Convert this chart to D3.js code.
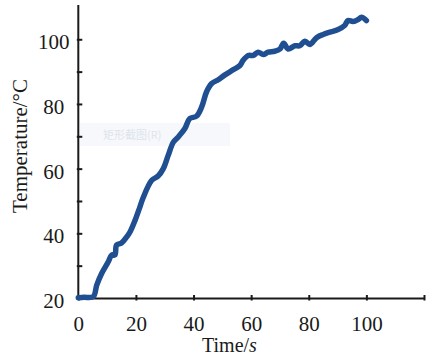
<!DOCTYPE html>
<html>
<head>
<meta charset="utf-8">
<script src="https://cdn.jsdelivr.net/npm/d3@7"></script>
<style>
  html, body { margin: 0; padding: 0; background: #fff; }
  svg { display: block; }
  text { font-family: "Liberation Serif", "Times New Roman", serif; fill: #1a1a1a; }
</style>
</head>
<body>
<svg id="chart" width="427" height="358"></svg>
<script>
// Heating curve: time (s) against temperature (°C)
const timeS = [0, 2, 5.2, 6.4, 8.1, 10.4, 11.6, 12.7, 13.3, 15, 16.8, 18, 19.7, 21.4, 22.5,
  25.5, 27.7, 29.5, 31.2, 33, 34.7, 37, 38.7, 41, 42.8, 44.5, 46.3, 48.6, 50.9, 53.8,
  56.1, 57.2, 59, 60.7, 62.4, 64.2, 65.9, 68.2, 70, 71.3, 72.8, 75.2, 76.9, 78.6, 80.4,
  82.7, 85, 87.3, 90.2, 92.5, 93.6, 95.4, 97.1, 98.3, 100];
const tempC = [20.1, 20.2, 20.4, 24, 27.6, 31.2, 33.3, 33.3, 36.4, 37, 38.9, 40.5, 44, 48.2, 51,
  56.4, 57.7, 60, 64.1, 68.2, 69.8, 72.4, 75.5, 76.2, 79, 83.7, 86.3, 87.5, 89, 90.6,
  91.9, 93.5, 95, 95, 96, 95.3, 96, 96.3, 97, 98.8, 97, 98, 98, 99.4, 98.4,
  100.5, 101.5, 102.2, 103, 104.3, 105.8, 105.5, 106.1, 106.8, 105.8];

const xTicks = [0, 20, 40, 60, 80, 100, 120];
const xTickLabels = ["0", "20", "40", "60", "80", "100", ""];
const yTicks = [20, 30, 40, 50, 60, 70, 80, 90, 100];
const yTickLabels = ["20", "", "40", "", "60", "", "80", "", "100"];

const xTitle = "Time/";
const xTitleUnit = "s";
const yTitle = "Temperature/°C";
const overlayText = "矩形截图(R)";

const svg = d3.select("#chart");

const x = d3.scaleLinear().domain([0, 120]).range([78.3, 424]);
const y = d3.scaleLinear().domain([20, 110.6]).range([298, 5]);

// faint overlay band across the plot
svg.append("rect")
  .attr("x", 80).attr("y", 123).attr("width", 150).attr("height", 23)
  .attr("fill", "#f6f8fb");
svg.append("text")
  .attr("x", 103).attr("y", 139)
  .style("font-family", "'Noto Sans CJK SC', sans-serif")
  .style("font-size", "11px")
  .style("fill", "#dfe4ec")
  .text(overlayText);

// x axis
const xAxis = svg.append("g")
  .attr("transform", `translate(0,${y(20)})`)
  .call(d3.axisBottom(x).tickValues(xTicks)
    .tickFormat((d, i) => xTickLabels[i]).tickSizeOuter(0).tickSize(0).tickPadding(18));
xAxis.select(".domain").attr("stroke", "#1a1a1a").attr("stroke-width", 2);
xAxis.selectAll(".tick line").attr("stroke", "#1a1a1a").attr("stroke-width", 2)
  .attr("y1", -3).attr("y2", 2.5);
xAxis.selectAll(".tick text").style("font-size", "21px").attr("fill", "#1a1a1a");

// y axis
const yAxis = svg.append("g")
  .attr("transform", `translate(${x(0)},0)`)
  .call(d3.axisLeft(y).tickValues(yTicks)
    .tickFormat((d, i) => yTickLabels[i]).tickSizeOuter(0).tickSize(0));
yAxis.select(".domain").attr("stroke", "#1a1a1a").attr("stroke-width", 2)
  .attr("d", `M0,${y(110.6)}V${y(20)}`);
yAxis.selectAll(".tick line").attr("stroke", "#1a1a1a").attr("stroke-width", 2)
  .attr("x1", -1.5).attr("x2", 4);
yAxis.selectAll(".tick text")
  .style("font-size", "21px").attr("fill", "#1a1a1a")
  .attr("text-anchor", "middle").attr("x", -24.5).attr("dy", "0.45em");

// axis titles
const xt = svg.append("text")
  .attr("x", 202).attr("y", 352)
  .style("font-size", "20px");
xt.append("tspan").text(xTitle);
xt.append("tspan").style("font-style", "italic").text(xTitleUnit);

svg.append("text")
  .attr("transform", "translate(27,146) rotate(-90)")
  .attr("text-anchor", "middle")
  .style("font-size", "21px")
  .text(yTitle);

// temperature curve
const pts = timeS.map((t, i) => [t, tempC[i]]);
const line = d3.line().x(d => x(d[0])).y(d => y(d[1])).curve(d3.curveCatmullRom.alpha(0.5));
svg.append("path")
  .datum(pts)
  .attr("d", line)
  .attr("fill", "none")
  .attr("stroke", "#1f4f91")
  .attr("stroke-width", 5.5)
  .attr("stroke-linejoin", "round")
  .attr("stroke-linecap", "round");
</script>
</body>
</html>
